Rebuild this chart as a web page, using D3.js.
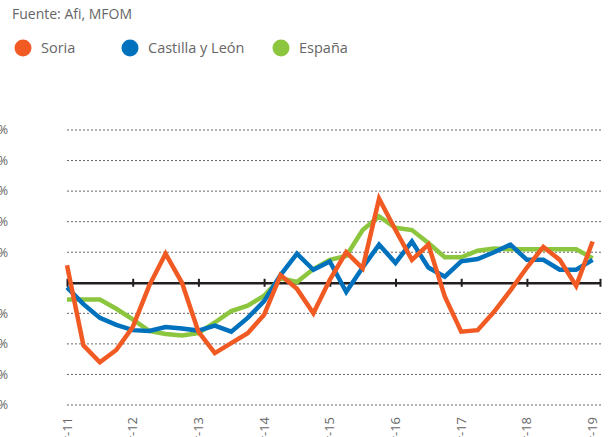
<!DOCTYPE html>
<html>
<head>
<meta charset="utf-8">
<script src="https://cdn.jsdelivr.net/npm/d3@7"></script>
<style>
  body { margin: 0; background: #fff; }
  svg { display: block; font-family: "Open Sans", sans-serif; }
</style>
</head>
<body>
<div id="chart"></div>
<script>
// quarterly points, one per quarter from 2011 to 2019
var quarters = d3.range(33);
var yearLabels = ['mar-11', 'mar-12', 'mar-13', 'mar-14', 'mar-15', 'mar-16', 'mar-17', 'mar-18', 'mar-19'];
var yTicks = [10, 8, 6, 4, 2, 0, -2, -4, -6, -8];

var soria = [1.15, -4.1, -5.2, -4.4, -2.9, -0.2, 1.9, 0.0, -3.2, -4.6, -3.95, -3.3, -2.1, 0.5, -0.4, -2.0,
    0.2, 2.0, 0.95, 5.5, 3.45, 1.5, 2.5, -0.9, -3.2, -3.1, -1.9, -0.5, 1.0, 2.35, 1.5, -0.2, 2.7];
var castilla = [-0.3, -1.4, -2.3, -2.75, -3.1, -3.15, -2.9, -3.0, -3.13, -2.8, -3.2, -2.3, -1.2, 0.5, 1.9, 0.85,
    1.4, -0.6, 1.0, 2.5, 1.3, 2.7, 1.0, 0.4, 1.4, 1.55, 2.0, 2.5, 1.5, 1.5, 0.85, 0.85, 1.5];
var espana = [-1.1, -1.1, -1.1, -1.7, -2.4, -3.15, -3.35, -3.45, -3.3, -2.6, -1.85, -1.5, -0.85, 0.3, 0.05, 0.9,
    1.5, 1.75, 3.45, 4.35, 3.6, 3.45, 2.6, 1.67, 1.67, 2.1, 2.25, 2.2, 2.2, 2.2, 2.2, 2.2, 1.6];

var seriesNames = ['Soria', 'Castilla y León', 'España'];
var seriesColors = ['#f15a22', '#0071bc', '#8cc63f'];

var width = 611;
var height = 437;

var svg = d3.select('#chart').append('svg')
    .attr('width', width)
    .attr('height', height);

// the axis runs a bit past the last quarter
var x = d3.scaleLinear().domain([0, 32.45]).range([67, 600]);
var y = d3.scaleLinear().domain([-8, 10]).range([405, 130]);

svg.append('text')
    .attr('x', 12)
    .attr('y', 19)
    .attr('font-size', 14)
    .attr('fill', '#666')
    .text('Fuente: Afi, MFOM');

var legend = svg.selectAll('.legend')
    .data(seriesNames)
    .enter()
    .append('g')
    .attr('class', 'legend')
    .attr('transform', function (d, i) {
        return 'translate(' + [23, 130, 281][i] + ',48)';
    });
legend.append('circle')
    .attr('r', 8.5)
    .attr('fill', function (d, i) { return seriesColors[i]; });
legend.append('text')
    .attr('x', 18)
    .attr('dy', '0.35em')
    .attr('font-size', 14.5)
    .attr('fill', '#666')
    .text(function (d) { return d; });

// dotted grid
svg.selectAll('.grid')
    .data(yTicks.filter(function (d) { return d !== 0; }))
    .enter()
    .append('line')
    .attr('class', 'grid')
    .attr('x1', 67)
    .attr('x2', 601)
    .attr('y1', function (d) { return y(d); })
    .attr('y2', function (d) { return y(d); })
    .attr('stroke', '#666')
    .attr('stroke-width', 1)
    .attr('stroke-dasharray', '2,2');

// the labels are cut by the left edge, as in the source
svg.selectAll('.ylab')
    .data(yTicks.filter(function (d) { return d !== 0; }))
    .enter()
    .append('text')
    .attr('class', 'ylab')
    .attr('x', 8)
    .attr('y', function (d) { return y(d); })
    .attr('dy', '0.35em')
    .attr('text-anchor', 'end')
    .attr('font-size', 12.5)
    .attr('fill', '#666')
    .text(function (d) { return d + '%'; });

// zero axis with year ticks
var xAxis = d3.axisBottom(x)
    .tickValues([0, 4, 8, 12, 16, 20, 24, 28, 32.45])
    .tickSize(0)
    .tickFormat('');
var axisG = svg.append('g')
    .attr('transform', 'translate(0,' + y(0) + ')')
    .call(xAxis);
axisG.select('.domain')
    .attr('stroke', '#231f20')
    .attr('stroke-width', 2.5);
axisG.selectAll('.tick line')
    .attr('y1', -4)
    .attr('y2', 4)
    .attr('stroke', '#231f20')
    .attr('stroke-width', 2);

svg.selectAll('.xlab')
    .data(yearLabels)
    .enter()
    .append('text')
    .attr('class', 'xlab')
    .attr('transform', function (d, i) {
        return 'translate(' + x(i * 4) + ',417) rotate(-90)';
    })
    .attr('dy', '0.35em')
    .attr('text-anchor', 'end')
    .attr('font-size', 13)
    .attr('fill', '#666')
    .text(function (d) { return d; });

var line = d3.line()
    .x(function (d, i) { return x(quarters[i]); })
    .y(function (d) { return y(d); });

var seriesData = [espana, castilla, soria];
var drawColors = [seriesColors[2], seriesColors[1], seriesColors[0]];
svg.selectAll('.series')
    .data(seriesData)
    .enter()
    .append('path')
    .attr('class', 'series')
    .attr('d', line)
    .attr('fill', 'none')
    .attr('stroke', function (d, i) { return drawColors[i]; })
    .attr('stroke-width', 4.5);
</script>
</body>
</html>
